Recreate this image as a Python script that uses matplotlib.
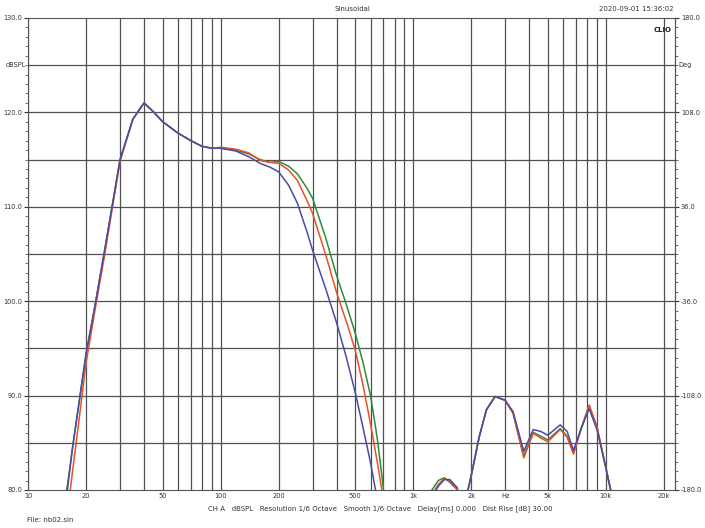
import numpy as np
import matplotlib.pyplot as plt
from matplotlib.ticker import FixedLocator, MultipleLocator, NullFormatter

nan = np.nan
freq = [15.5, 16, 17, 18, 20, 22, 25, 30, 35, 40, 45, 50, 60, 70, 80, 90, 100, 120, 140, 160,
        180, 200, 225, 250, 280, 300, 350, 400, 450, 500, 550, 600, 650, 700, 720,
        1250, 1350, 1450, 1550, 1700, 1800,
        1900, 2000, 2200, 2400, 2660, 3000, 3300, 3750, 4200, 4600, 5000, 5800, 6300,
        6800, 7500, 8200, 9000, 10000, 10600]
green = [78, 80, 84.5, 88, 94.5, 99, 105.5, 115, 119.3, 121, 120, 119, 117.8, 117, 116.4, 116.2, 116.2, 116, 115.6, 115.0,
         114.7, 114.8, 114.3, 113.5, 112, 110.9, 106.8, 102.7, 99.6, 96.6, 93.4, 90, 85.5, 80.2, nan,
         80, 81, 81.3, 80.8, 80, nan,
         79.5, 81.5, 85.6, 88.5, 89.9, 89.5, 88.2, 83.6, 86.1, 85.7, 85.3, 86.5, 85.7,
         83.9, 86.6, 88.9, 86.7, 82.4, 80]
red = [76, 77.5, 82, 86, 93.5, 98.5, 105, 114.8, 119.3, 121, 120, 119, 117.8, 117, 116.4, 116.2, 116.3, 116.1, 115.7, 114.9,
       114.7, 114.6, 113.9, 112.8, 110.7, 109.3, 105, 100.9, 97.8, 94.8, 91, 87, 83, 79, nan,
       79.5, 80.6, 81.2, 81, 80, nan,
       79.5, 81.5, 85.6, 88.5, 89.9, 89.5, 88.1, 83.4, 86.0, 85.5, 85.1, 86.4, 85.6,
       83.8, 86.7, 89.0, 86.7, 82.4, 80]
blue = [79, 80.5, 84.5, 88, 94.5, 99, 105.5, 115, 119.3, 121, 120, 119, 117.8, 117, 116.4, 116.2, 116.2, 115.9, 115.3, 114.6,
        114.2, 113.7, 112.3, 110.4, 107.4, 105.4, 101.4, 97.7, 94, 90.3, 86.5, 82.9, 79, nan, nan,
        79.2, 80.4, 81.1, 81.1, 80.2, nan,
        79.5, 81.5, 85.6, 88.5, 89.9, 89.5, 88.3, 84.1, 86.4, 86.2, 85.8, 86.9, 86.2,
        84.2, 86.7, 88.6, 86.4, 82.4, 80]

xticks = [10, 20, 50, 100, 200, 500, 1000, 2000, 3000, 5000, 10000, 20000]
xlabels = ['10', '20', '50', '100', '200', '500', '1k', '2k', 'Hz', '5k', '10k', '20k']

fig = plt.figure(figsize=(7.05, 5.28), dpi=100)
ax = fig.add_axes([0.040, 0.072, 0.918, 0.894])
ax.set_xscale('log')
ax.set_xlim(10, 23000)
ax.set_ylim(80, 130)

grid_f = [m * 10**d for d in range(1, 5) for m in range(1, 10) if m * 10**d <= 20000]
for f in grid_f:
    ax.axvline(f, color='#505050', lw=0.9, zorder=1)
for v in range(85, 130, 5):
    ax.axhline(v, color='#505050', lw=0.9, zorder=1)

ax.plot(freq, green, color='#2e8b3a', lw=1.1, zorder=3)
ax.plot(freq, red, color='#e8502a', lw=1.1, zorder=4)
ax.plot(freq, blue, color='#4a4aa8', lw=1.1, zorder=5)

ax.xaxis.set_major_locator(FixedLocator(xticks))
ax.set_xticklabels(xlabels)
ax.xaxis.set_minor_formatter(NullFormatter())
ax.xaxis.set_minor_locator(FixedLocator([]))
ax.set_yticks([80, 90, 100, 110, 120, 130])
ax.set_yticklabels(['80.0', '90.0', '100.0', '110.0', '120.0', '130.0'])
ax.yaxis.set_minor_locator(MultipleLocator(1))
ax.tick_params(axis='both', which='major', labelsize=4.8, colors='#333333', length=3, pad=1)
ax.tick_params(axis='y', which='minor', length=2, color='#555555')
ax.tick_params(axis='x', length=0, pad=2)
for s in ax.spines.values():
    s.set_color('#555555')

sec = ax.secondary_yaxis('right', functions=(lambda v: (v - 80) * 7.2 - 180, lambda d: (d + 180) / 7.2 + 80))
sec.set_yticks([-180, -108, -36, 36, 108, 180])
sec.set_yticklabels(['-180.0', '-108.0', '-36.0', '36.0', '108.0', '180.0'])
sec.yaxis.set_minor_locator(MultipleLocator(7.2))
sec.tick_params(axis='y', which='major', labelsize=4.8, colors='#333333', length=3, pad=1)
sec.tick_params(axis='y', which='minor', length=2, color='#555555')

fig.text(0.008, 0.877, 'dBSPL', fontsize=4.8, color='#333333', va='center')
fig.text(0.962, 0.877, 'Deg', fontsize=4.8, color='#333333', va='center')
fig.text(0.5, 0.983, 'Sinusoidal', fontsize=5, color='#333333', ha='center', va='center')
fig.text(0.955, 0.983, '2020-09-01 15:36:02', fontsize=5, color='#333333', ha='right', va='center')
fig.text(0.952, 0.943, 'CLIO', fontsize=5, fontweight='bold', color='#222222', ha='right', va='center')
fig.text(0.54, 0.036, 'CH A   dBSPL   Resolution 1/6 Octave   Smooth 1/6 Octave   Delay[ms] 0.000   Dist Rise [dB] 30.00',
         fontsize=5, color='#333333', ha='center', va='center')
fig.text(0.038, 0.016, 'File: nb02.sin', fontsize=5, color='#333333', va='center')

fig.savefig('out.png', dpi=100)
